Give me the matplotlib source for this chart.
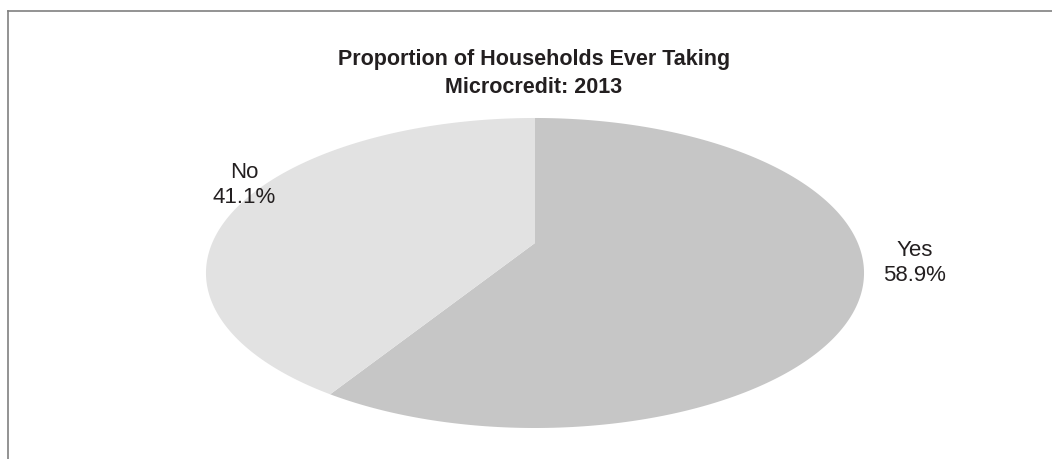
import numpy as np
import matplotlib
matplotlib.use("Agg")
import matplotlib.pyplot as plt
from matplotlib.lines import Line2D

plt.rcParams['font.family'] = ['Liberation Sans', 'DejaVu Sans']

labels = ["Yes", "No"]
shares = [58.9, 41.1]
colors = ["#c6c6c6", "#e2e2e2"]
title = "Proportion of Households Ever Taking\nMicrocredit: 2013"
text_color = "#231f20"

# label anchors (pixels, y down)
label_pos = [(915, 263), (244, 185)]

# tilted-pie perspective: vertex, half axes, and foreshortening
cx, cy = 535, 244
a, b, k = 322.8, 149.2, 0.1935


def project(phi):
    x = np.sin(phi)
    y = -np.cos(phi)
    w = 1 - k * y
    return cx + a * x / w, cy + b * y / w


fig = plt.figure(figsize=(10.52, 4.6), dpi=100)
ax = fig.add_axes([0, 0, 1, 1])
ax.set_xlim(0, 1052)
ax.set_ylim(460, 0)
ax.axis("off")

fracs = np.array(shares) / np.sum(shares)
edges = np.concatenate([[0], np.cumsum(fracs)]) * 2 * np.pi
for i in range(len(shares)):
    phi = np.linspace(edges[i], edges[i + 1], 300)
    px, py = project(phi)
    ax.fill(np.r_[cx, px], np.r_[cy, py], color=colors[i], lw=0)
    ax.text(label_pos[i][0], label_pos[i][1],
            f"{labels[i]}\n{shares[i]:.1f}%",
            ha="center", va="center", multialignment="center",
            fontsize=16, color=text_color, linespacing=1.28)

ax.text(534, 73.5, title, ha="center", va="center", fontsize=15.5,
        fontweight="bold", color=text_color, linespacing=1.42)

# frame: only the top and left edges show
fig.add_artist(Line2D([7.5 / 1052, 1], [1 - 11.5 / 460] * 2,
                      transform=fig.transFigure, color="#808080", lw=1.2))
fig.add_artist(Line2D([7.5 / 1052] * 2, [0, 1 - 11.5 / 460],
                      transform=fig.transFigure, color="#808080", lw=1.2))

fig.savefig("out.png", dpi=100)
